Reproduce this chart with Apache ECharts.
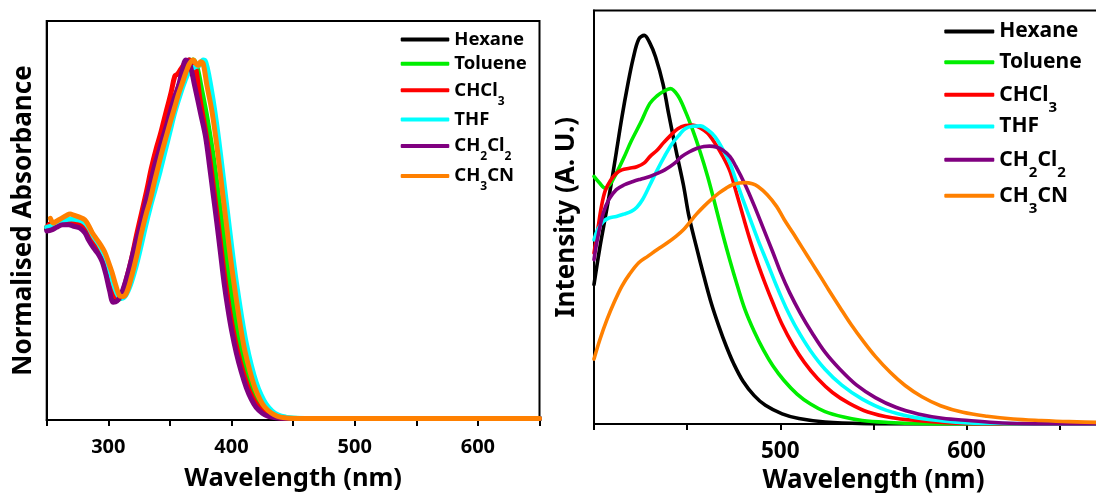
<!DOCTYPE html>
<html>
<head>
<meta charset="utf-8">
<script src="https://cdn.jsdelivr.net/npm/echarts@6/dist/echarts.min.js"></script>
<style>
html,body{margin:0;padding:0;background:#fff;}
#chart{width:1096px;height:493px;}
</style>
</head>
<body>
<div id="chart"></div>
<script>
// ---------- data ----------
const solvents = ['Hexane', 'Toluene', 'CHCl3', 'THF', 'CH2Cl2', 'CH3CN'];
const legendLabels = ['{m|Hexane}', '{m|Toluene}', '{m|CHCl}{s|3}', '{m|THF}', '{m|CH}{s|2}{m|Cl}{s|2}', '{m|CH}{s|3}{m|CN}'];
const colors = ['#000000', '#00ee00', '#ff0000', '#00ffff', '#800080', '#ff8000'];
const absTickLabels = [300, 400, 500, 600];
const emTickLabels = [500, 600];

// Absorbance (left panel), [wavelength nm, normalised absorbance]
const absHexane = [[250,0.53],[255,0.535],[260,0.545],[265,0.553],[270,0.553],[275,0.55],[280,0.542],[284,0.522],[288,0.495],[292,0.475],[296,0.45],[299,0.415],[302,0.375],[305,0.345],[308,0.335],[311,0.345],[315,0.385],[319,0.44],[323,0.5],[327,0.56],[331,0.62],[333,0.64],[336,0.68],[340,0.73],[344,0.78],[348,0.83],[352,0.875],[356,0.915],[360,0.955],[364,0.99],[366,1.0],[368,0.96],[370,0.975],[373,0.95],[377,0.88],[380,0.82],[383,0.75],[386,0.675],[389,0.595],[392,0.51],[395,0.43],[398,0.36],[401,0.295],[404,0.235],[408,0.17],[412,0.12],[416,0.08],[420,0.052],[425,0.03],[430,0.017],[436,0.009],[443,0.005],[500,0.004],[650,0.004]];
const absToluene = [[250,0.535],[255,0.538],[260,0.548],[265,0.556],[270,0.556],[275,0.553],[280,0.548],[284,0.528],[288,0.5],[292,0.48],[296,0.457],[299,0.425],[302,0.385],[305,0.35],[308,0.336],[311,0.34],[314,0.365],[318,0.41],[322,0.465],[326,0.52],[330,0.58],[334,0.635],[338,0.69],[342,0.745],[346,0.795],[350,0.845],[354,0.89],[358,0.93],[362,0.965],[366,0.99],[369,1.0],[372,0.98],[375,0.93],[379,0.86],[382,0.8],[385,0.735],[388,0.66],[391,0.58],[394,0.5],[397,0.42],[400,0.35],[403,0.285],[406,0.228],[410,0.165],[414,0.115],[418,0.078],[422,0.05],[427,0.028],[432,0.015],[438,0.008],[445,0.005],[500,0.004],[650,0.004]];
const absCHCl3 = [[250,0.535],[253,0.545],[256,0.535],[260,0.545],[265,0.55],[270,0.548],[275,0.546],[280,0.54],[284,0.52],[288,0.495],[292,0.475],[296,0.45],[299,0.415],[302,0.375],[305,0.345],[308,0.338],[311,0.35],[315,0.395],[319,0.45],[323,0.515],[327,0.575],[331,0.635],[335,0.7],[339,0.755],[342,0.79],[345,0.83],[348,0.87],[351,0.91],[354,0.955],[356,0.96],[359,0.975],[362,0.99],[365,1.0],[368,0.995],[371,0.975],[374,0.9],[377,0.84],[380,0.78],[383,0.71],[386,0.63],[389,0.55],[392,0.465],[395,0.385],[398,0.315],[401,0.255],[405,0.19],[409,0.138],[413,0.095],[417,0.062],[421,0.04],[426,0.022],[431,0.012],[437,0.007],[445,0.004],[500,0.004],[650,0.004]];
const absTHF = [[250,0.535],[255,0.54],[260,0.548],[265,0.556],[270,0.558],[275,0.556],[280,0.55],[284,0.535],[288,0.51],[292,0.49],[296,0.465],[299,0.44],[302,0.405],[305,0.37],[308,0.345],[311,0.338],[314,0.345],[318,0.375],[322,0.42],[326,0.475],[330,0.535],[334,0.59],[338,0.64],[342,0.69],[346,0.745],[350,0.8],[354,0.855],[358,0.9],[362,0.94],[366,0.97],[370,0.98],[374,0.985],[377,1.0],[379,0.995],[382,0.95],[385,0.89],[388,0.82],[391,0.74],[394,0.655],[397,0.57],[400,0.485],[403,0.405],[406,0.335],[409,0.27],[412,0.213],[416,0.153],[420,0.105],[424,0.07],[428,0.045],[433,0.025],[438,0.014],[444,0.008],[450,0.005],[500,0.004],[650,0.004]];
const absCH2Cl2 = [[250,0.525],[254,0.528],[258,0.535],[263,0.542],[268,0.542],[272,0.538],[277,0.533],[281,0.52],[284,0.5],[288,0.478],[292,0.46],[295,0.44],[298,0.405],[301,0.36],[304,0.327],[307,0.33],[310,0.345],[314,0.385],[318,0.435],[322,0.49],[326,0.54],[330,0.6],[334,0.655],[338,0.712],[341,0.745],[344,0.782],[347,0.815],[350,0.852],[353,0.888],[357,0.928],[360,0.97],[363,1.0],[366,0.99],[370,0.93],[375,0.85],[379,0.785],[382,0.71],[385,0.63],[388,0.55],[391,0.465],[394,0.38],[397,0.31],[400,0.25],[404,0.185],[408,0.133],[412,0.09],[416,0.058],[420,0.035],[425,0.019],[430,0.01],[436,0.006],[445,0.004],[500,0.004],[650,0.004]];
const absCH3CN = [[253,0.56],[255.5,0.547],[258,0.552],[262,0.56],[266,0.568],[269,0.572],[272,0.569],[276,0.564],[281,0.556],[284,0.54],[287,0.52],[291,0.5],[294,0.485],[297,0.467],[300,0.44],[303,0.41],[306,0.375],[309,0.346],[312,0.343],[315,0.355],[319,0.4],[323,0.455],[327,0.52],[331,0.575],[334,0.61],[337,0.655],[341,0.71],[344,0.75],[347,0.787],[351,0.835],[354,0.87],[357,0.905],[360,0.935],[363,0.965],[366,0.99],[369,1.0],[371,0.99],[373,0.985],[375,0.995],[377,0.99],[380,0.93],[384,0.86],[387,0.79],[390,0.71],[393,0.625],[396,0.54],[399,0.455],[402,0.38],[405,0.31],[408,0.245],[411,0.19],[415,0.135],[419,0.09],[423,0.058],[427,0.036],[432,0.02],[437,0.011],[443,0.006],[450,0.004],[500,0.004],[650,0.004]];

// Emission (right panel), [wavelength nm, intensity]
const emHexane = [[400,0.359],[403,0.45],[406,0.53],[409,0.611],[412,0.7],[415,0.79],[418,0.87],[421,0.94],[424,0.99],[427,1.0],[430,0.98],[433,0.945],[437,0.876],[440,0.8],[444,0.705],[448,0.615],[451,0.534],[455,0.455],[459,0.38],[463,0.31],[467,0.252],[471,0.2],[475,0.155],[480,0.11],[486,0.073],[492,0.048],[501,0.026],[510,0.014],[524,0.005],[545,0.001],[580,0],[700,0]];
const emToluene = [[400,0.637],[403,0.62],[406,0.607],[409,0.62],[412,0.645],[416,0.685],[420,0.728],[425,0.775],[430,0.825],[434,0.845],[437,0.855],[441,0.863],[445,0.845],[449,0.805],[453,0.756],[457,0.7],[461,0.637],[465,0.565],[469,0.49],[473,0.42],[477,0.355],[481,0.295],[486,0.238],[491,0.19],[496,0.15],[502,0.112],[509,0.077],[516,0.052],[524,0.032],[534,0.018],[544,0.009],[558,0.004],[575,0.001],[610,0],[700,0]];
const emCHCl3 = [[400,0.44],[402,0.5],[404,0.56],[406,0.6],[409,0.628],[412,0.645],[415,0.654],[419,0.658],[423,0.662],[427,0.672],[430,0.688],[434,0.705],[437,0.722],[441,0.742],[445,0.76],[449,0.768],[453,0.769],[457,0.762],[461,0.748],[465,0.722],[469,0.69],[473,0.65],[476,0.602],[480,0.535],[484,0.47],[488,0.412],[492,0.36],[496,0.312],[501,0.256],[507,0.202],[513,0.158],[520,0.117],[528,0.081],[537,0.053],[547,0.031],[560,0.016],[573,0.009],[587,0.004],[601,0.001],[630,0],[700,0]];
const emTHF = [[400,0.474],[402,0.5],[405,0.521],[408,0.53],[412,0.534],[416,0.54],[420,0.547],[423,0.558],[426,0.577],[430,0.615],[434,0.654],[438,0.69],[442,0.722],[446,0.745],[449,0.76],[453,0.766],[457,0.767],[461,0.757],[465,0.739],[469,0.708],[473,0.671],[476,0.63],[480,0.577],[484,0.525],[488,0.474],[493,0.415],[498,0.355],[503,0.3],[509,0.244],[516,0.19],[524,0.141],[533,0.1],[544,0.064],[557,0.035],[572,0.017],[587,0.008],[601,0.003],[620,0.001],[650,0],[700,0]];
const emCH2Cl2 = [[400,0.423],[402,0.48],[405,0.543],[408,0.578],[412,0.603],[416,0.615],[421,0.624],[425,0.63],[430,0.637],[434,0.645],[438,0.654],[443,0.67],[447,0.688],[451,0.7],[455,0.709],[459,0.714],[462,0.715],[466,0.712],[469,0.705],[473,0.688],[476,0.664],[481,0.617],[486,0.562],[491,0.502],[496,0.442],[500,0.392],[505,0.338],[511,0.283],[517,0.235],[524,0.185],[532,0.141],[541,0.1],[551,0.068],[562,0.043],[574,0.026],[587,0.015],[601,0.009],[615,0.004],[630,0.001],[660,0],[700,0]];
const emCH3CN = [[400,0.167],[403,0.215],[407,0.269],[411,0.315],[415,0.355],[419,0.385],[424,0.415],[429,0.432],[434,0.449],[439,0.465],[444,0.483],[448,0.5],[451,0.517],[455,0.54],[459,0.56],[463,0.578],[467,0.594],[471,0.607],[474,0.615],[478,0.62],[481,0.621],[485,0.618],[488,0.611],[493,0.59],[498,0.56],[502,0.527],[507,0.49],[512,0.452],[517,0.414],[522,0.376],[526,0.345],[532,0.3],[538,0.256],[545,0.21],[551,0.174],[559,0.133],[567,0.099],[576,0.07],[586,0.047],[598,0.03],[611,0.02],[625,0.013],[640,0.009],[655,0.006],[672,0.004],[700,0.002]];

const absSeries = [absHexane, absToluene, absCHCl3, absTHF, absCH2Cl2, absCH3CN];
const emSeries = [emHexane, emToluene, emCHCl3, emTHF, emCH2Cl2, emCH3CN];

// ---------- chart ----------
const FONT = '"Noto Sans", "Liberation Sans", Arial, sans-serif';
const chart = echarts.init(document.getElementById('chart'), null, {renderer: 'canvas'});

function xAxisDef(gridIndex, min, max, shown, fontSize, margin, nameGap, nameSize) {
  return {
    type: 'value', gridIndex, min, max, interval: 50,
    name: 'Wavelength (nm)', nameLocation: 'middle', nameGap,
    nameTextStyle: {fontFamily: FONT, fontWeight: 'bold', fontSize: nameSize, color: '#000'},
    axisLine: {show: true, lineStyle: {color: '#000', width: 2}},
    axisTick: {show: true, inside: false, length: 6, lineStyle: {color: '#000', width: 2}},
    axisLabel: {
      show: true, margin, fontFamily: FONT, fontWeight: 'bold', fontSize, color: '#000',
      showMinLabel: true, showMaxLabel: true,
      formatter: v => shown.indexOf(v) >= 0 ? String(v) : ''
    },
    splitLine: {show: false}
  };
}
function yAxisDef(gridIndex, max, name, nameGap) {
  return {
    type: 'value', gridIndex, min: 0, max,
    name, nameLocation: 'middle', nameGap, nameRotate: 90,
    nameTextStyle: {fontFamily: FONT, fontWeight: 'bold', fontSize: 26, color: '#000'},
    axisLine: {show: true, lineStyle: {color: '#000', width: 2}},
    axisTick: {show: false}, axisLabel: {show: false}, splitLine: {show: false}
  };
}

const series = [];
solvents.forEach((s, i) => {
  series.push({
    name: s, type: 'line', xAxisIndex: 0, yAxisIndex: 0, data: absSeries[i],
    showSymbol: false, symbol: 'none', smooth: 0.35,
    lineStyle: {color: colors[i], width: 5, cap: 'round', join: 'round'}, itemStyle: {color: colors[i]},
    clip: true, z: 2 + i
  });
});
solvents.forEach((s, i) => {
  series.push({
    name: s, type: 'line', xAxisIndex: 1, yAxisIndex: 1, data: emSeries[i],
    showSymbol: false, symbol: 'none', smooth: 0.35,
    lineStyle: {color: colors[i], width: 3.6, cap: 'round', join: 'round'}, itemStyle: {color: colors[i]},
    clip: true, z: 2 + i
  });
});

// legend row tops (items with subscripts grow in height, hence the offsets)
const leftRows = [30, 54.3, 73.3, 110, 129, 159];
const rightRows = [21, 51.7, 74.2, 116, 139.2, 175.2];
const legends = [];
solvents.forEach((s, i) => {
  legends.push({
    left: 400.7, top: leftRows[i], padding: 0, orient: 'vertical',
    data: [s], icon: 'roundRect', itemWidth: 48.6, itemHeight: 4, selectedMode: false,
    formatter: () => legendLabels[i],
    textStyle: {
      color: '#000', fontFamily: FONT, fontWeight: 'bold', fontSize: 18.5,
      rich: {
        m: {fontFamily: FONT, fontWeight: 'bold', fontSize: 18.5, lineHeight: 22, color: '#000'},
        s: {fontFamily: FONT, fontWeight: 'bold', fontSize: 12, lineHeight: 22, padding: [22, 0, 0, 0], color: '#000'}
      }
    }
  });
});
solvents.forEach((s, i) => {
  legends.push({
    left: 944.3, top: rightRows[i], padding: 0, orient: 'vertical',
    data: [s], icon: 'roundRect', itemWidth: 50, itemHeight: 4, selectedMode: false,
    formatter: () => legendLabels[i],
    textStyle: {
      color: '#000', fontFamily: FONT, fontWeight: 'bold', fontSize: 21,
      rich: {
        m: {fontFamily: FONT, fontWeight: 'bold', fontSize: 21, lineHeight: 26, color: '#000'},
        s: {fontFamily: FONT, fontWeight: 'bold', fontSize: 15, lineHeight: 26, padding: [26, 0, 0, 0], color: '#000'}
      }
    }
  });
});

chart.setOption({
  animation: false,
  backgroundColor: '#ffffff',
  grid: [
    {left: 46.7, top: 21, width: 492.8, height: 399, show: true, borderColor: '#000', borderWidth: 2, backgroundColor: 'transparent', containLabel: false, outerBoundsMode: 'none'},
    {left: 594, top: 10.5, width: 558.9, height: 413.5, show: true, borderColor: '#000', borderWidth: 2, backgroundColor: 'transparent', containLabel: false, outerBoundsMode: 'none'}
  ],
  xAxis: [
    xAxisDef(0, 250, 650, absTickLabels, 20, 17, 46, 25.5),
    xAxisDef(1, 400, 700, emTickLabels, 22.5, 16, 40, 26)
  ],
  yAxis: [
    yAxisDef(0, 1.108, 'Normalised Absorbance', 10),
    yAxisDef(1, 1.064, 'Intensity (A. U.)', 14)
  ],
  legend: legends,
  series
});
</script>
</body>
</html>
